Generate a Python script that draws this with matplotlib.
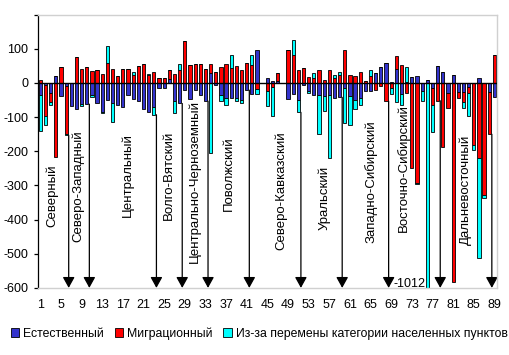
import numpy as np
import matplotlib
matplotlib.use("Agg")
import matplotlib.pyplot as plt
from matplotlib.patches import Patch

plt.rcParams['font.family'] = ['Liberation Sans', 'DejaVu Sans']
plt.rcParams['axes.unicode_minus'] = False

# subjects of the federation, numbered 1..89
subjects = np.arange(1, 90)

natural = [-35, -5, -29, 20, -39, -10, -67, -77, -61, -62,
           -36, -59, -85, -50, -59, -64, -70, -36, -47, -52,
           -77, -86, -71, -16, -16, 12, -52, -60, -20, -48,
           -20, -35, -53, 30, -5, -35, -45, -43, -45, -51,
           -21, -33, 97, 0, 14, 5, 5, 0, -47, -31,
           -51, -5, -23, -36, -35, -38, -36, -45, -42, -14,
           -38, -50, -43, -22, -22, 29, 48, 60, 3, 40,
           -32, 3, 18, 20, -22, 9, -14, 50, 31, -30,
           23, -27, -25, -12, 0, 16, 0, -27, -42]
migration = [8, -93, -27, -217, 46, -140, 0, 76, 41, 46,
             34, 37, 26, 60, 40, 21, 40, 40, 24, 51,
             55, 23, 33, 14, 14, 25, 25, 37, 123, 53,
             55, 57, 40, 27, 31, 46, 55, 43, 50, 37,
             60, 53, -18, 0, -23, -12, 23, 0, 97, 83,
             38, 44, 17, 14, 37, 8, 37, 14, 22, 97,
             23, 21, 31, 6, 20, -20, -8, -53, -14, 38,
             52, -30, -250, -292, 0, 0, -51, -52, -187, -44,
             -582, -18, -31, -16, -182, -219, -328, -123, 82]
category = [-105, -25, -8, 0, 0, -3, 0, 0, -5, 2,
            -5, 2, -4, 49, -56, 0, 0, 0, 8, 0,
            2, 2, -22, 0, 0, 0, -37, 18, 0, 0,
            0, 0, 0, -205, 0, -17, -18, 38, -8, -8,
            0, 28, -14, 0, -45, -86, 0, 0, 0, 43,
            -35, 0, -5, 15, -115, -45, -185, 9, 9, -104,
            -85, -27, -20, 0, 19, 0, 0, 0, -17, -55,
            -33, 43, 0, -5, -32, -1012, -78, 0, 0, 0,
            0, 0, -16, -70, -15, -293, -10, 0, 0]

series_names = ['Естественный', 'Миграционный',
                'Из-за перемены категории населенных пунктов']
series_colors = ['#3333CC', '#FF0000', '#00FFFF']

region_names = ['Северный', 'Северо-Западный', 'Центральный', 'Волго-Вятский',
                'Центрально-Черноземный', 'Поволжский', 'Северо-Кавказский',
                'Уральский', 'Западно-Сибирский', 'Восточно-Сибирский',
                'Дальневосточный']
region_sizes = [6, 4, 13, 5, 5, 8, 10, 8, 9, 10, 10]

# layout of the rotated region captions (x in category units, bottom in data units)
caption_x = [3.3, 8.3, 18.0, 26.0, 30.9, 37.5, 47.6, 56.1, 65.1, 71.4, 83.4]
caption_y = [-422, -466, -392, -401, -527, -375, -489, -430, -468, -436, -475]

fig = plt.figure(figsize=(5.1, 3.55), dpi=100)
ax = fig.add_axes([0.074, 0.189, 0.9005, 0.7696])

pos = np.zeros(len(subjects))
neg = np.zeros(len(subjects))
for vals, color in zip([natural, migration, category], series_colors):
    v = np.array(vals, dtype=float)
    base = np.where(v >= 0, pos, neg)
    ax.bar(subjects, v, width=0.62, bottom=base, color=color,
           edgecolor='black', linewidth=0.6, zorder=2)
    pos += np.clip(v, 0, None)
    neg += np.clip(v, None, 0)

ax.axhline(0, color='black', lw=1, zorder=3)

# arrows marking the borders of economic regions
bounds = np.cumsum(region_sizes) + 0.5
for b in bounds:
    start = min(0, neg[int(b - 0.5) - 1])
    ax.annotate('', xy=(b, -600), xytext=(b, start), annotation_clip=False,
                arrowprops=dict(arrowstyle='-|>,head_length=0.65,head_width=0.36',
                                color='black', lw=0.9, shrinkA=0, shrinkB=0,
                                mutation_scale=10), zorder=1)

for name, cx, cy in zip(region_names, caption_x, caption_y):
    ax.text(cx, cy, name, rotation=90, ha='center', va='bottom', fontsize=9.5)

deep = int(np.argmin(category))
ax.text(subjects[deep] - 0.35, -590, str(category[deep]), ha='right',
        va='center', fontsize=9)

ax.set_xlim(0.5, 89.5)
ax.set_ylim(-600, 200)
ax.set_xticks(subjects[::4])
ax.set_xticklabels([str(s) for s in subjects[::4]], fontsize=9)
ax.tick_params(axis='x', length=0, pad=8)
yt = np.arange(-600, 201, 100)
ax.set_yticks(yt)
ax.set_yticklabels([str(t) if t < 200 else '' for t in yt], fontsize=9)
ax.tick_params(axis='y', length=3, width=0.9, pad=4)

for s in ['top', 'right', 'bottom']:
    ax.spines[s].set_color('#D0D0D0')
    ax.spines[s].set_linewidth(1)
ax.spines['left'].set_color('black')
ax.spines['left'].set_linewidth(0.9)

handles = [Patch(facecolor=c, edgecolor='black', linewidth=0.6) for c in series_colors]
fig.legend(handles, series_names, loc='center', bbox_to_anchor=(0.508, 0.06),
           ncol=3, frameon=False, fontsize=8.8, handlelength=0.7, handleheight=0.7,
           handletextpad=0.3, columnspacing=0.9, borderaxespad=0, borderpad=0)

fig.savefig('out.png', dpi=100)
